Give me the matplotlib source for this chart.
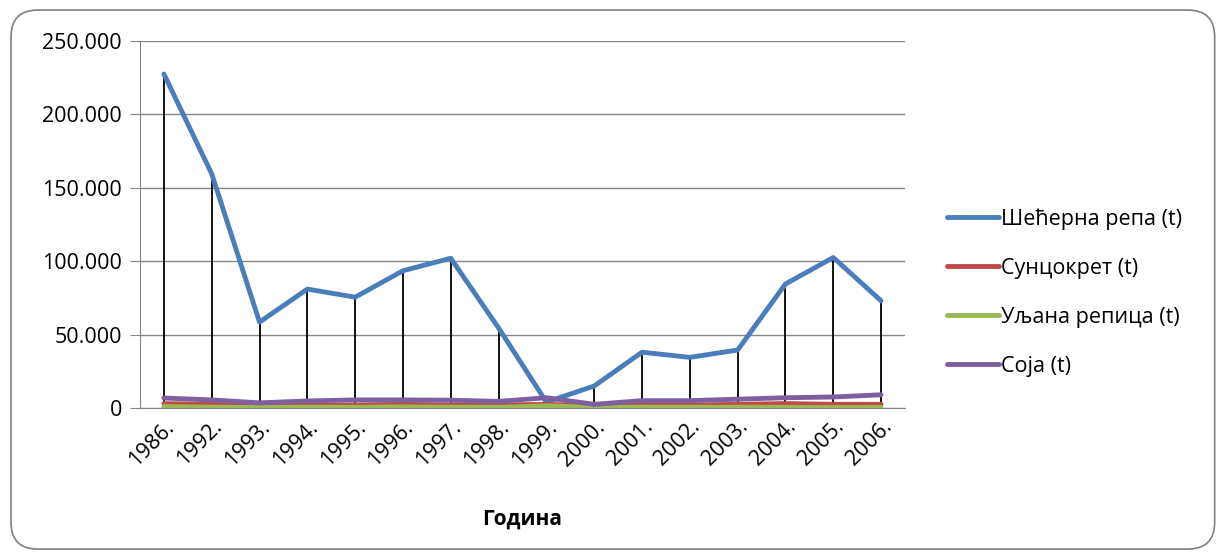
import matplotlib.pyplot as plt
from matplotlib.patches import FancyBboxPatch
from matplotlib.ticker import FuncFormatter

years = ["1986.", "1992.", "1993.", "1994.", "1995.", "1996.", "1997.", "1998.",
         "1999.", "2000.", "2001.", "2002.", "2003.", "2004.", "2005.", "2006."]
secerna_repa = [227500, 159500, 58500, 81000, 75500, 93500, 102000, 54500,
                4000, 15000, 38000, 34500, 39500, 84500, 102500, 73000]
suncokret = [3000, 2500, 1500, 2000, 2000, 2500, 2000, 2000,
             2500, 1500, 2000, 2000, 2500, 3000, 2500, 2500]
uljana_repica = [1000, 500, 300, 500, 500, 800, 500, 400,
                 1500, 500, 500, 500, 500, 500, 300, 400]
soja = [6800, 5500, 3500, 4800, 5500, 5500, 5300, 4500,
        7000, 2500, 5000, 5000, 6000, 7000, 7500, 9000]

labels = ["Шећерна репа (t)", "Сунцокрет (t)", "Уљана репица (t)", "Соја (t)"]
colors = ["#4A7EBB", "#BE4B48", "#98B954", "#7D60A0"]
series = [secerna_repa, suncokret, uljana_repica, soja]

plt.rcParams['font.family'] = ['Open Sans', 'DejaVu Sans']

fig = plt.figure(figsize=(12.22, 5.58), dpi=100)
fig.patches.append(FancyBboxPatch((0.009, 0.016), 0.985, 0.966,
                                  boxstyle="round,pad=0,rounding_size=0.022",
                                  transform=fig.transFigure, fill=False,
                                  edgecolor="#808080", linewidth=1.2,
                                  mutation_aspect=12.22 / 5.58))

ax = fig.add_axes([140 / 1222, 1 - 408 / 558, 765 / 1222, 367 / 558])
x = list(range(len(years)))

# drop lines from the highest point down to the axis
tops = [max(vals) for vals in zip(*series)]
ax.vlines(x, 0, tops, colors="black", linewidth=1.3, zorder=3)

for vals, lab, col in zip(series, labels, colors):
    ax.plot(x, vals, color=col, linewidth=3.5, label=lab,
            solid_capstyle="round", zorder=4)

ax.set_xlim(-0.5, len(years) - 0.5)
ax.set_ylim(0, 250000)
ax.set_yticks(range(0, 250001, 50000))
ax.yaxis.set_major_formatter(FuncFormatter(lambda v, p: "0" if v == 0 else f"{int(v):,}".replace(",", ".")))
ax.set_xticks(x)
ax.set_xticklabels(years, rotation=45, ha="right", rotation_mode="anchor", fontsize=15.5)
ax.tick_params(axis="y", labelsize=15.5, length=7, color="#868686", pad=6)
ax.tick_params(axis="x", length=0, pad=6)
ax.grid(axis="y", color="#868686", linewidth=1)
ax.set_axisbelow(True)
for s in ["top", "right"]:
    ax.spines[s].set_visible(False)
for s in ["left", "bottom"]:
    ax.spines[s].set_color("#868686")

ax.set_xlabel("Година", fontsize=15, fontweight="bold", labelpad=28)

ax.legend(loc="center left", bbox_to_anchor=(1.03, 0.315), frameon=False,
          fontsize=15.5, handlelength=2.4, handletextpad=0.1, labelspacing=1.3)

fig.savefig("out.png", dpi=100)
